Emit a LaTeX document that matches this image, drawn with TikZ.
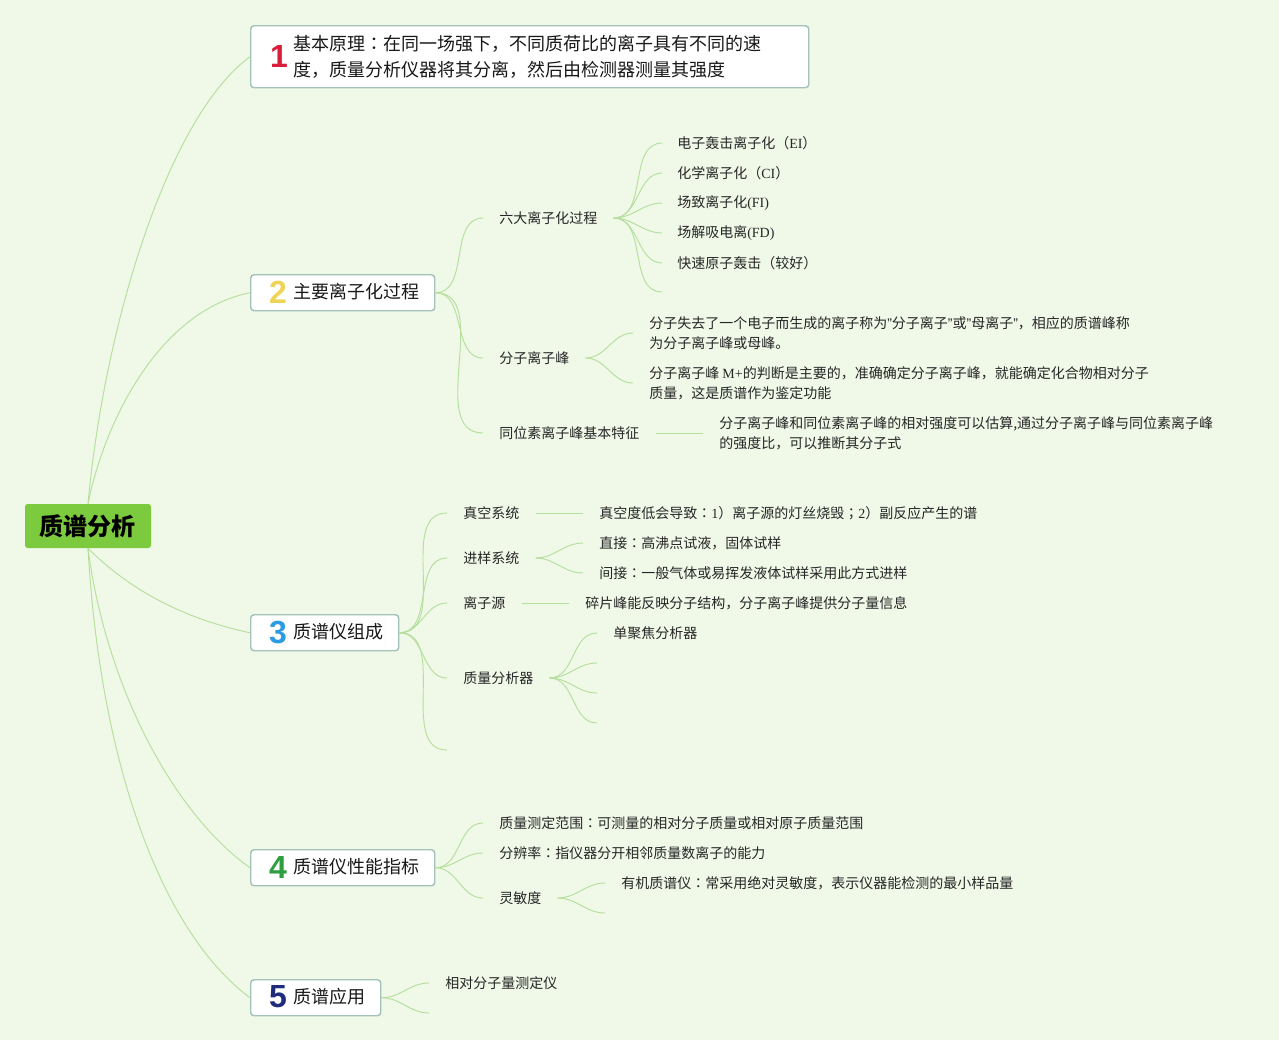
\documentclass[tikz,border=0pt]{standalone}
\usepackage{fontspec}
\setmainfont{Noto Sans CJK SC}
\newfontfamily\lat{Liberation Serif}
\newfontfamily\qf{Liberation Sans}
\newfontfamily\numfont{Liberation Sans}
\newfontfamily\tcf{Noto Sans CJK TC}
\definecolor{bgc}{HTML}{F0F8E8}
\definecolor{lc}{HTML}{B4DF9C}
\definecolor{boxc}{HTML}{A3C2BA}
\definecolor{rootg}{HTML}{7CCB3E}
\definecolor{nA}{HTML}{D81E3C}
\definecolor{nB}{HTML}{F0D458}
\definecolor{nC}{HTML}{2B9BE3}
\definecolor{nD}{HTML}{2F9E41}
\definecolor{nE}{HTML}{1F2C7D}
\newcommand{\q}{{\qf ”}}
\newcommand{\mycolon}{{\tcf ：}}
\newcommand{\mysemi}{{\tcf ；}}
\begin{document}
\begin{tikzpicture}[x=0.75pt,y=-0.75pt,
  txt/.style={inner sep=0pt, anchor=west, font=\fontsize{10.5pt}{15pt}\selectfont, align=left, text=black!85},
  btxt/.style={inner sep=0pt, anchor=west, font=\fontsize{13.5pt}{19.5pt}\selectfont, align=left, text=black!90},
  topic/.style={draw=boxc, line width=1.1pt, fill=white, rounded corners=2.5pt, inner sep=0pt, anchor=north west, minimum height=27pt},
  digit/.style={inner sep=0pt, font=\numfont\bfseries\fontsize{24pt}{24pt}\selectfont},
  br/.style={draw=lc, line width=0.7pt}]
\useasboundingbox (0,0) rectangle (1279,1040);
\fill[bgc] (0,0) rectangle (1279,1040);

% root
\node[fill=rootg, rounded corners=2pt, minimum width=94.5pt, minimum height=33pt, inner sep=0pt,
  font=\bfseries\fontsize{18pt}{18pt}\selectfont] (root) at (88,526) {质谱分析};

% topic boxes
\node[topic, minimum width=418.5pt, minimum height=46.5pt] (b1) at (250,25) {};
\node[topic, minimum width=138pt] (b2) at (250,274) {};
\node[topic, minimum width=111pt] (b3) at (250,614) {};
\node[topic, minimum width=138pt] (b4) at (250,849) {};
\node[topic, minimum width=97.5pt] (b5) at (250,979) {};

\node[digit, text=nA] (d1) at (279,56) {1};
\node[btxt] (t1) at (293,57) {基本原理\mycolon 在同一场强下，不同质荷比的离子具有不同的速\\度，质量分析仪器将其分离，然后由检测器测量其强度};
\node[digit, text=nB] (d2) at (278,292) {2};
\node[btxt] (t2) at (293,292) {主要离子化过程};
\node[digit, text=nC] (d3) at (278,632) {3};
\node[btxt] (t3) at (293,632) {质谱仪组成};
\node[digit, text=nD] (d4) at (278,867) {4};
\node[btxt] (t4) at (293,867) {质谱仪性能指标};
\node[digit, text=nE] (d5) at (278,997) {5};
\node[btxt] (t5) at (293,997) {质谱应用};

% section 2
\node[txt] (n21) at (499,218) {六大离子化过程};
\node[txt] (n211) at (677,143) {电子轰击离子化（{\lat EI}）};
\node[txt] (n212) at (677,173) {化学离子化（{\lat CI}）};
\node[txt] (n213) at (677,203) {场致离子化{\lat (FI)}};
\node[txt] (n214) at (677,233) {场解吸电离{\lat (FD)}};
\node[txt] (n215) at (677,263) {快速原子轰击（较好）};
\coordinate (c216) at (662,292);
\node[txt] (n22) at (499,358) {分子离子峰};
\node[txt] (n221) at (649,333) {分子失去了一个电子而生成的离子称为\q 分子离子\q 或\q 母离子\q ，相应的质谱峰称\\为分子离子峰或母峰。};
\node[txt] (n222) at (649,383) {分子离子峰 {\lat M+}的判断是主要的，准确确定分子离子峰，就能确定化合物相对分子\\质量，这是质谱作为鉴定功能};
\node[txt] (n23) at (499,433) {同位素离子峰基本特征};
\node[txt] (n231) at (719,433) {分子离子峰和同位素离子峰的相对强度可以估算,通过分子离子峰与同位素离子峰\\的强度比，可以推断其分子式};

% section 3
\node[txt] (n31) at (463,513) {真空系统};
\node[txt] (n311) at (599,513) {真空度低会导致\mycolon {\lat 1}）离子源的灯丝烧毁\mysemi {\lat 2}）副反应产生的谱};
\node[txt] (n32) at (463,558) {进样系统};
\node[txt] (n321) at (599,543) {直接\mycolon 高沸点试液，固体试样};
\node[txt] (n322) at (599,573) {间接\mycolon 一般气体或易挥发液体试样采用此方式进样};
\node[txt] (n33) at (463,603) {离子源};
\node[txt] (n331) at (585,603) {碎片峰能反映分子结构，分子离子峰提供分子量信息};
\node[txt] (n34) at (463,678) {质量分析器};
\node[txt] (n341) at (613,633) {单聚焦分析器};
\coordinate (c342) at (597,663);
\coordinate (c343) at (597,693);
\coordinate (c344) at (597,723);
\coordinate (c35) at (447,750);

% section 4
\node[txt] (n41) at (499,823) {质量测定范围\mycolon 可测量的相对分子质量或相对原子质量范围};
\node[txt] (n42) at (499,853) {分辨率\mycolon 指仪器分开相邻质量数离子的能力};
\node[txt] (n43) at (499,898) {灵敏度};
\node[txt] (n431) at (621,883) {有机质谱仪\mycolon 常采用绝对灵敏度，表示仪器能检测的最小样品量};
\coordinate (c432) at (605,913);

% section 5
\node[txt] (n51) at (445,983) {相对分子量测定仪};
\coordinate (c52) at (429,1013);

% root connectors
\draw[br] (root.north) .. controls +(17,-184) and +(-80,58) .. (b1.west);
\draw[br] (root.north) .. controls +(17,-84) and +(-90,18) .. (b2.west);
\draw[br] (root.south) .. controls +(32,32) and +(-80,-17) .. (b3.west);
\draw[br] (root.south) .. controls +(17,132) and +(-80,-57) .. (b4.west);
\draw[br] (root.south) .. controls +(12,212) and +(-90,-67) .. (b5.west);

% section 2 connectors
\foreach \n in {n21,n22,n23}
  \draw[br] (b2.east) to[out=0,in=180] ([xshift=-12pt]\n.west);
\foreach \n in {n211,n212,n213,n214,n215}
  \draw[br] ([xshift=12pt]n21.east) to[out=0,in=180] ([xshift=-11pt]\n.west);
\draw[br] ([xshift=12pt]n21.east) to[out=0,in=180] (c216);
\foreach \n in {n221,n222}
  \draw[br] ([xshift=12pt]n22.east) to[out=0,in=180] ([xshift=-12pt]\n.west);
\draw[br] ([xshift=12pt]n23.east) -- ([xshift=-12pt]n231.west);

% section 3 connectors
\foreach \n in {n31,n32,n33,n34}
  \draw[br] (b3.east) to[out=0,in=180] ([xshift=-12pt]\n.west);
\draw[br] (b3.east) to[out=0,in=180] (c35);
\draw[br] ([xshift=12pt]n31.east) -- ([xshift=-12pt]n311.west);
\foreach \n in {n321,n322}
  \draw[br] ([xshift=12pt]n32.east) to[out=0,in=180] ([xshift=-12pt]\n.west);
\draw[br] ([xshift=12pt]n33.east) -- ([xshift=-12pt]n331.west);
\draw[br] ([xshift=12pt]n34.east) to[out=0,in=180] ([xshift=-12pt]n341.west);
\foreach \c in {c342,c343,c344}
  \draw[br] ([xshift=12pt]n34.east) to[out=0,in=180] (\c);

% section 4 connectors
\foreach \n in {n41,n42,n43}
  \draw[br] (b4.east) to[out=0,in=180] ([xshift=-12pt]\n.west);
\draw[br] ([xshift=12pt]n43.east) to[out=0,in=180] ([xshift=-12pt]n431.west);
\draw[br] ([xshift=12pt]n43.east) to[out=0,in=180] (c432);

% section 5 connectors
\draw[br] (b5.east) to[out=0,in=180] ([xshift=-12pt]n51.west);
\draw[br] (b5.east) to[out=0,in=180] (c52);
\end{tikzpicture}
\end{document}
